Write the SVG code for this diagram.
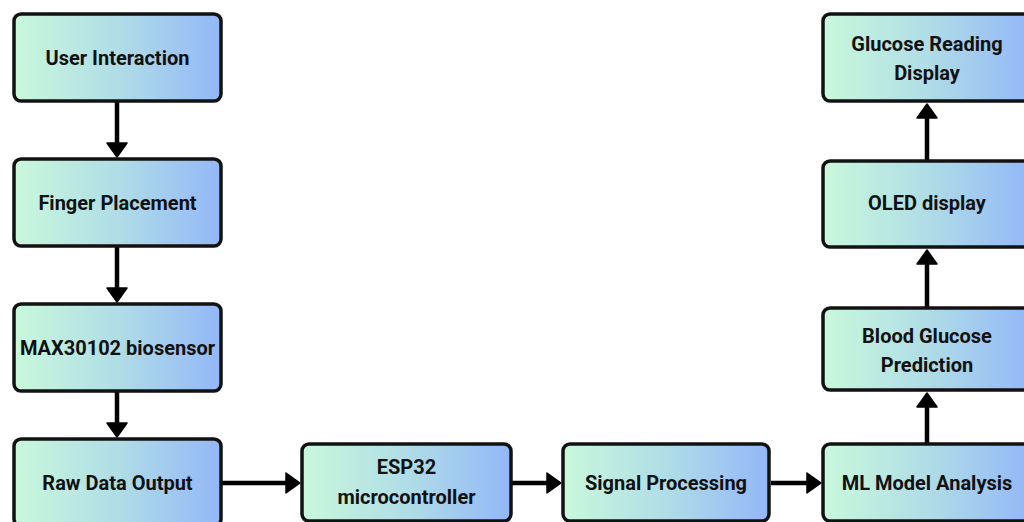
<svg xmlns="http://www.w3.org/2000/svg" width="1024" height="522" viewBox="0 0 1024 522">
  <defs>
    <linearGradient id="boxFill" x1="0" y1="0" x2="1" y2="0">
      <stop offset="0" stop-color="#c9f8dc"/>
      <stop offset="0.5" stop-color="#b0dde6"/>
      <stop offset="1" stop-color="#93b7f8"/>
    </linearGradient>
  </defs>
  <style>
    .box { fill: url(#boxFill); stroke: #121212; stroke-width: 3.5; }
    .lbl { font-family: Roboto, "Liberation Sans", sans-serif; font-weight: 700; font-size: 20px; fill: #111; text-anchor: middle; dominant-baseline: central; }
    .wire { stroke: #000; stroke-width: 4.5; fill: none; }
    .head { fill: #000; stroke: #000; stroke-width: 1.5; stroke-linejoin: round; }
  </style>
  <rect width="1024" height="522" fill="#fff"/>

  <!-- connectors -->
  <g id="connectors">
    <!-- left column, downward -->
    <line class="wire" x1="117" y1="102" x2="117" y2="145"/>
    <polygon class="head" points="107,143 127,143 117,157"/>
    <line class="wire" x1="117" y1="247" x2="117" y2="290"/>
    <polygon class="head" points="107,288 127,288 117,302"/>
    <line class="wire" x1="117" y1="392" x2="117" y2="425"/>
    <polygon class="head" points="107,423 127,423 117,437"/>
    <!-- bottom row, rightward -->
    <line class="wire" x1="222" y1="483" x2="288" y2="483"/>
    <polygon class="head" points="286,473 286,493 300,483"/>
    <line class="wire" x1="512" y1="483" x2="549" y2="483"/>
    <polygon class="head" points="547,473 547,493 561,483"/>
    <line class="wire" x1="771" y1="483" x2="809" y2="483"/>
    <polygon class="head" points="807,473 807,493 821,483"/>
    <!-- right column, upward -->
    <line class="wire" x1="927" y1="443" x2="927" y2="405"/>
    <polygon class="head" points="917,407 937,407 927,393"/>
    <line class="wire" x1="927" y1="307" x2="927" y2="262"/>
    <polygon class="head" points="917,264 937,264 927,250"/>
    <line class="wire" x1="927" y1="160" x2="927" y2="116"/>
    <polygon class="head" points="917,118 937,118 927,104"/>
  </g>

  <!-- left column -->
  <g id="user-interaction">
    <rect class="box" x="14" y="14" width="207" height="87" rx="7"/>
    <text class="lbl" x="117.5" y="58">User Interaction</text>
  </g>
  <g id="finger-placement">
    <rect class="box" x="14" y="159" width="207" height="87" rx="7"/>
    <text class="lbl" x="117.5" y="203">Finger Placement</text>
  </g>
  <g id="max30102">
    <rect class="box" x="14" y="304" width="207" height="87" rx="7"/>
    <text class="lbl" x="117.5" y="348">MAX30102 biosensor</text>
  </g>
  <g id="raw-data">
    <rect class="box" x="14" y="439" width="207" height="87" rx="7"/>
    <text class="lbl" x="117.5" y="483">Raw Data Output</text>
  </g>

  <!-- bottom row -->
  <g id="esp32">
    <rect class="box" x="302" y="444" width="209" height="77" rx="7"/>
    <text class="lbl" x="406.5" y="467">ESP32</text>
    <text class="lbl" x="406.5" y="497">microcontroller</text>
  </g>
  <g id="signal-processing">
    <rect class="box" x="563" y="444" width="206" height="77" rx="7"/>
    <text class="lbl" x="666" y="483">Signal Processing</text>
  </g>

  <!-- right column -->
  <g id="ml-model">
    <rect class="box" x="823" y="444" width="208" height="77" rx="7"/>
    <text class="lbl" x="927" y="483">ML Model Analysis</text>
  </g>
  <g id="glucose-prediction">
    <rect class="box" x="823" y="308" width="208" height="82" rx="7"/>
    <text class="lbl" x="927" y="336">Blood Glucose</text>
    <text class="lbl" x="927" y="365">Prediction</text>
  </g>
  <g id="oled">
    <rect class="box" x="823" y="161" width="208" height="86" rx="7"/>
    <text class="lbl" x="927" y="203">OLED display</text>
  </g>
  <g id="glucose-reading">
    <rect class="box" x="823" y="14" width="208" height="87" rx="7"/>
    <text class="lbl" x="927" y="44">Glucose Reading</text>
    <text class="lbl" x="927" y="73">Display</text>
  </g>
</svg>
